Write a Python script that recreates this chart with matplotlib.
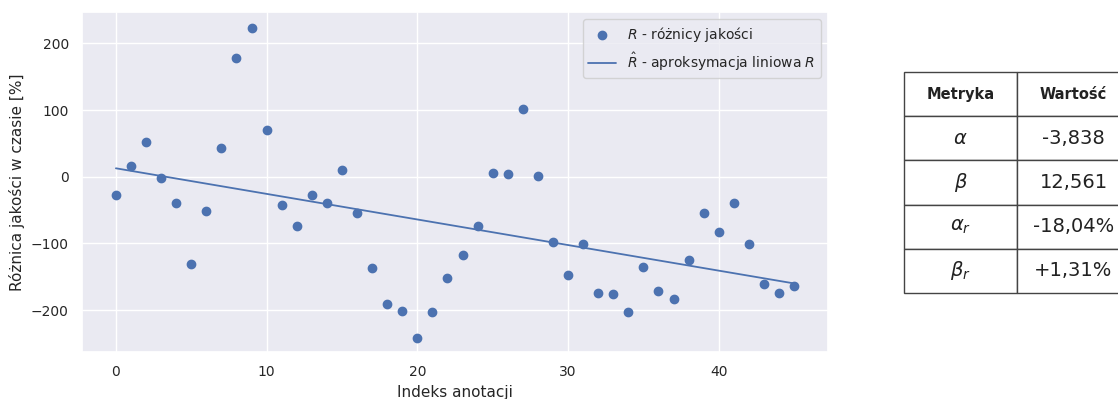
import numpy as np
import matplotlib
matplotlib.use("Agg")
import matplotlib.pyplot as plt
import seaborn as sns

# quality differences per annotation index
indices = np.arange(46)
diffs = [-27.9, 16.1, 51.7, -1.5, -40.0, -130.6, -52.0, 42.6, 177.8, 223.3,
         70.6, -42.5, -73.6, -27.9, -40.0, 10.1, -54.5, -137.0, -191.6, -201.0,
         -242.6, -203.6, -151.6, -117.6, -73.6, 5.1, 3.6, 102.1, 1.0, -97.6,
         -148.0, -101.0, -174.6, -175.7, -203.6, -135.6, -171.6, -183.6, -125.1, -54.5,
         -83.5, -40.0, -101.5, -161.1, -174.6, -164.1]

alpha = -3.838
beta = 12.561

metric_names = [r"$\alpha$", r"$\beta$", r"$\alpha_r$", r"$\beta_r$"]
metric_values = ["-3,838", "12,561", "-18,04%", "+1,31%"]

sns.set_theme(style="darkgrid")

fig = plt.figure(figsize=(11.18, 3.99), dpi=100)
ax = fig.add_axes([82 / 1118, 47 / 399, 746 / 1118, 340 / 399])

ax.scatter(indices, diffs, color="#4c72b0", s=36, zorder=3, label=r"$R$ - różnicy jakości")
fit = alpha * indices + beta
ax.plot(indices, fit, color="#4c72b0", lw=1.3, label=r"$\hat{R}$ - aproksymacja liniowa $R$")
ax.set_xlabel("Indeks anotacji", fontsize=11)
ax.set_ylabel("Różnica jakości w czasie [%]", fontsize=11)
ax.tick_params(labelsize=10)
ax.set_xlim(-2.25, 47.25)
ax.set_ylim(-263, 247)
ax.set_yticks([-200, -100, 0, 100, 200])
ax.legend(loc="upper right", fontsize=10)

# metrics table
tax = fig.add_axes([904 / 1118, 106 / 399, 226 / 1118, 221 / 399])
tax.axis("off")
cells = [[n, v] for n, v in zip(metric_names, metric_values)]
tbl = tax.table(cellText=cells, colLabels=["Metryka", "Wartość"],
                cellLoc="center", bbox=[0, 0, 1, 1])
tbl.auto_set_font_size(False)
for (r, c), cell in tbl.get_celld().items():
    cell.set_edgecolor("#444444")
    cell.set_linewidth(1.0)
    cell.set_facecolor("white")
    if r == 0:
        cell.set_text_props(fontweight="bold", fontsize=10.5, color="#222222")
    else:
        cell.set_text_props(fontsize=14, color="#222222")

fig.savefig("out.png", dpi=100)
